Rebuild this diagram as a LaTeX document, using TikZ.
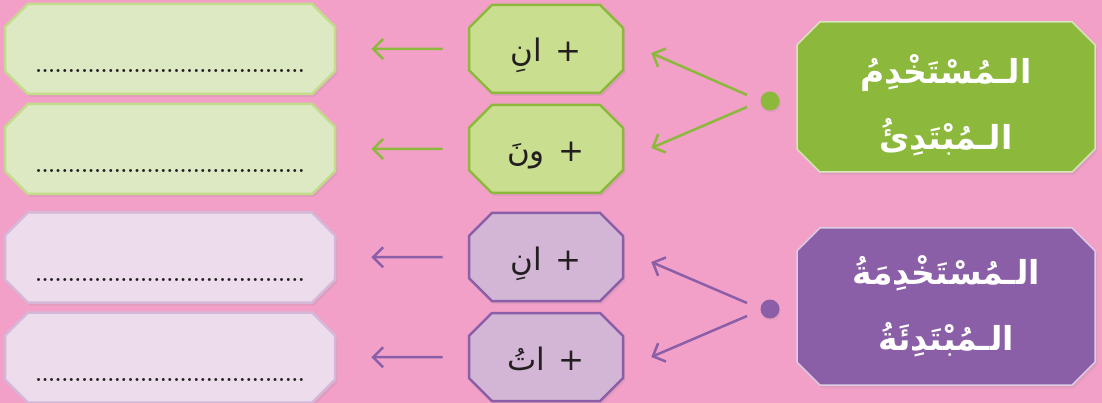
\documentclass[tikz,border=0pt]{standalone}
\usepackage{fontspec}
\usetikzlibrary{shapes.misc,arrows.meta,shadows}
\TeXXeTstate=1
\newfontfamily\arabicfont[Script=Arabic]{DejaVu Sans}
\definecolor{bgpink}{HTML}{F2A0C8}
\definecolor{usergreen}{HTML}{8CB83C}
\definecolor{suffgreen}{HTML}{C9DE8F}
\definecolor{ansgreen}{HTML}{DCE9C3}
\definecolor{ansgreenline}{HTML}{C3DC8B}
\definecolor{userpurple}{HTML}{8B5FA8}
\definecolor{suffpurple}{HTML}{D3B6D6}
\definecolor{anspurple}{HTML}{EDDDEC}
\definecolor{anspurpleline}{HTML}{D5B8D8}
\definecolor{inkblack}{HTML}{231F20}
\newcommand{\dotrow}{\parbox[c][48pt][b]{290pt}{\centering\bfseries\fontsize{21}{21}\selectfont .........................................}}
\newcommand{\suff}[1]{\rule[-12pt]{0pt}{50pt}\smash{\beginR +\hspace{14pt}#1\endR}}

\begin{document}
\begin{tikzpicture}[x=1pt, y=-1pt,
    box/.style={chamfered rectangle, chamfered rectangle xsep=20pt, inner sep=0pt, line width=2.5pt,
      drop shadow={opacity=0.15, shadow xshift=2pt, shadow yshift=-3pt}},
    answer/.style={box, minimum width=328pt, minimum height=90pt, text=inkblack},
    suffix/.style={box, minimum width=154pt, minimum height=88pt, text=inkblack, font=\arabicfont\fontsize{31}{33}\selectfont},
    user/.style={box, minimum width=298pt, minimum height=150pt, line width=1.5pt, text=white, align=center,
      font=\arabicfont\bfseries\fontsize{33}{66}\selectfont},
    hub/.style={circle, inner sep=0pt, minimum size=19pt, drop shadow={opacity=0.15, shadow xshift=1pt, shadow yshift=-2pt}},
    link/.style={line width=2.5pt, -{Straight Barb[length=10pt, width=20pt]}}]

    \fill[bgpink] (0,0) rectangle (1102,403);
    \useasboundingbox (0,0) rectangle (1102,403);

    \node[answer, fill=ansgreen, draw=ansgreenline] (ga1) at (170,49) {\dotrow};
    \node[answer, fill=ansgreen, draw=ansgreenline] (ga2) at (170,149) {\dotrow};
    \node[answer, fill=anspurple, draw=anspurpleline] (pa1) at (170,257.5) {\dotrow};
    \node[answer, fill=anspurple, draw=anspurpleline] (pa2) at (170,357.5) {\dotrow};

    \node[suffix, fill=suffgreen, draw=usergreen] (gm1) at (546,49) {\suff{انِ}};
    \node[suffix, fill=suffgreen, draw=usergreen] (gm2) at (546,149) {\suff{ونَ}};
    \node[suffix, fill=suffpurple, draw=userpurple] (pm1) at (546,257) {\suff{انِ}};
    \node[suffix, fill=suffpurple, draw=userpurple] (pm2) at (546,357) {\suff{اتُ}};

    \node[user, fill=usergreen, draw=white!65!usergreen] (gu) at (946,97)
      {\rule{0pt}{46pt}\beginR الـمُسْتَخْدِمُ\endR\\\beginR الـمُبْتَدِئُ\endR};
    \node[user, minimum height=157pt, fill=userpurple, draw=white!70!userpurple] (pu) at (946,306.5)
      {\beginR الـمُسْتَخْدِمَةُ\endR\\\beginR الـمُبْتَدِئَةُ\endR};

    \node[hub, fill=usergreen] (gdot) at (770,101) {};
    \node[hub, fill=userpurple] (pdot) at (770,309) {};

    \draw[link, usergreen] ([shift={(-23,-6)}]gdot.center) -- ([shift={(27,4)}]gm1.east);
    \draw[link, usergreen] ([shift={(-23,6)}]gdot.center) -- ([shift={(27,-1)}]gm2.east);
    \draw[link, userpurple] ([shift={(-23,-6)}]pdot.center) -- ([shift={(27,5)}]pm1.east);
    \draw[link, userpurple] ([shift={(-23,7)}]pdot.center) -- ([shift={(27,0)}]pm2.east);

    \draw[link, usergreen, shorten <=25pt, shorten >=35pt] (gm1) -- (ga1);
    \draw[link, usergreen, shorten <=25pt, shorten >=35pt] (gm2) -- (ga2);
    \draw[link, userpurple, shorten <=25pt, shorten >=35pt] (pm1) -- (pa1);
    \draw[link, userpurple, shorten <=25pt, shorten >=35pt] (pm2) -- (pa2);
\end{tikzpicture}
\end{document}
